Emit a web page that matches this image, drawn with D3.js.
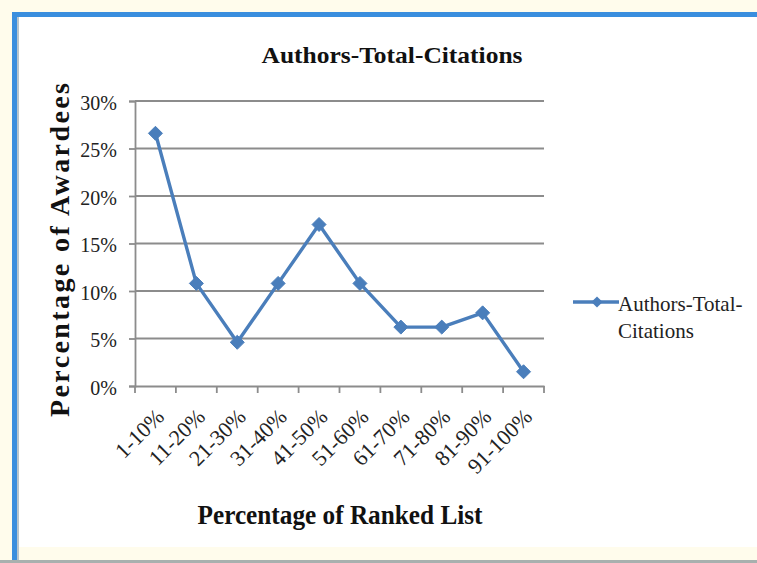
<!DOCTYPE html>
<html><head><meta charset="utf-8">
<script src="https://cdn.jsdelivr.net/npm/d3@7"></script>
<style>html,body{margin:0;padding:0;background:#fff;}svg{display:block;}</style>
</head><body>
<svg id="c" width="757" height="563"></svg>
<script>
const categories = ["1-10%","11-20%","21-30%","31-40%","41-50%","51-60%","61-70%","71-80%","81-90%","91-100%"];
const values = [26.6, 10.8, 4.6, 10.8, 17.0, 10.8, 6.2, 6.2, 7.7, 1.5];
const yTicks = [0, 5, 10, 15, 20, 25, 30];
const seriesName = "Authors-Total-Citations";
const titleText = "Authors-Total-Citations";
const xTitle = "Percentage of Ranked List";
const yTitle = "Percentage of Awardees";
const legendLines = ["Authors-Total-", "Citations"];

const svg = d3.select("#c");
const serif = "'Liberation Serif','Times New Roman',serif";
const blue = "#4a7ebb";
const grid = "#8c8c8c";

// frame background
svg.append("rect").attr("x",0).attr("y",0).attr("width",757).attr("height",563).attr("fill","#fffcec");
svg.append("rect").attr("x",12).attr("y",12).attr("width",745).attr("height",535).attr("fill","#fff");
svg.append("rect").attr("x",12).attr("y",12).attr("width",745).attr("height",5).attr("fill","#3a8ede");
svg.append("rect").attr("x",12).attr("y",12).attr("width",5).attr("height",548).attr("fill","#3a8ede");
svg.append("rect").attr("x",17).attr("y",17).attr("width",2).attr("height",543).attr("fill","#b8c4cc");
svg.append("rect").attr("x",0).attr("y",560).attr("width",757).attr("height",3).attr("fill","#a8b0ae");

const x = d3.scaleBand().domain(categories).range([135, 544]);
const y = d3.scaleLinear().domain([0, 30]).range([386, 101]);

// gridlines
svg.append("g").selectAll("line").data(yTicks.filter(d=>d>0)).join("line")
  .attr("x1",135).attr("x2",544).attr("y1",d=>y(d)).attr("y2",d=>y(d))
  .attr("stroke",grid).attr("stroke-width",1.8);

// y axis
const yAxis = svg.append("g").attr("transform","translate(135,0)")
  .call(d3.axisLeft(y).tickValues(yTicks).tickFormat(d=>d+"%").tickSize(6).tickPadding(12));
yAxis.select(".domain").attr("stroke",grid).attr("stroke-width",1.8);
yAxis.selectAll(".tick line").attr("stroke",grid).attr("stroke-width",1.8);
yAxis.selectAll("text").attr("font-family",serif).attr("font-size",20).attr("fill","#222").attr("dy","0.4em");

// x axis
const xAxis = svg.append("g").attr("transform","translate(0,386)")
  .call(d3.axisBottom(x).tickSize(0).tickFormat(""));
xAxis.select(".domain").attr("stroke",grid).attr("stroke-width",1.8);
const bounds = categories.map(c=>x(c)).concat([x.range()[1]]);
svg.append("g").selectAll("line").data(bounds).join("line")
  .attr("x1",d=>d).attr("x2",d=>d).attr("y1",386).attr("y2",393)
  .attr("stroke",grid).attr("stroke-width",1.8);
svg.append("g").selectAll("text").data(categories).join("text")
  .attr("transform",d=>`translate(${x(d)+x.bandwidth()/2+10},418) rotate(-45)`)
  .attr("text-anchor","end").attr("font-family",serif).attr("font-size",22).attr("fill","#222")
  .text(d=>d);

// line + markers
const line = d3.line().x((d,i)=>x(categories[i])+x.bandwidth()/2).y(d=>y(d));
svg.append("path").datum(values).attr("d",line).attr("fill","none")
  .attr("stroke",blue).attr("stroke-width",3.4).attr("stroke-linejoin","round");
const diamond = d3.symbol().type(d3.symbolDiamond2).size(125);
svg.append("g").selectAll("path").data(values).join("path")
  .attr("transform",(d,i)=>`translate(${x(categories[i])+x.bandwidth()/2},${y(d)})`)
  .attr("d",diamond).attr("fill",blue).attr("stroke",blue).attr("stroke-width",1);

// title
svg.append("text").attr("x",392).attr("y",63).attr("text-anchor","middle")
  .attr("font-family",serif).attr("font-weight","bold").attr("font-size",24).attr("fill","#111")
  .attr("textLength",261).attr("lengthAdjust","spacingAndGlyphs")
  .text(titleText);
// axis titles
svg.append("text").attr("x",340).attr("y",524).attr("text-anchor","middle")
  .attr("font-family",serif).attr("font-weight","bold").attr("font-size",27).attr("fill","#111")
  .attr("textLength",285).attr("lengthAdjust","spacingAndGlyphs")
  .text(xTitle);
svg.append("text").attr("transform","translate(69,250) rotate(-90)").attr("text-anchor","middle")
  .attr("font-family",serif).attr("font-weight","bold").attr("font-size",28).attr("fill","#111")
  .attr("textLength",334).attr("lengthAdjust","spacing")
  .text(yTitle);

// legend
const lg = svg.append("g");
lg.append("line").attr("x1",573).attr("x2",619).attr("y1",302).attr("y2",302).attr("stroke",blue).attr("stroke-width",3.4);
lg.append("path").attr("transform","translate(597,302)").attr("d",d3.symbol().type(d3.symbolDiamond2).size(80)).attr("fill",blue);
lg.selectAll("text").data(legendLines).join("text")
  .attr("x",618).attr("y",(d,i)=>311+i*27)
  .attr("font-family",serif).attr("font-size",21).attr("fill","#222").text(d=>d);
</script>
</body></html>
